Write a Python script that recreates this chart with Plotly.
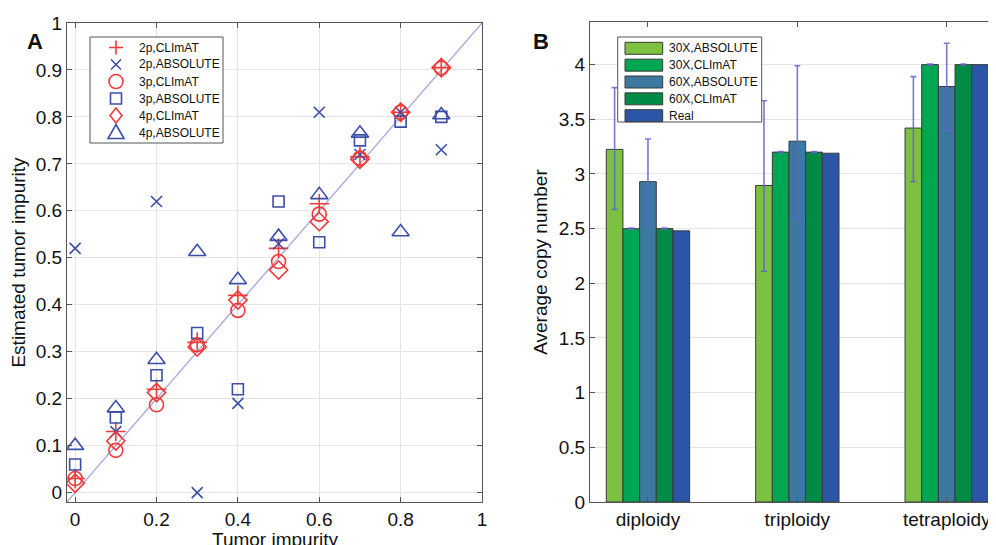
import plotly.graph_objects as go

# The page body has an 8px margin; size the figure so it fills the 996x545 window.
OFF = 8
W, H = 996 - OFF, 545 - OFF


def px(x):
    return (x - OFF) / W


def py(y):
    return 1 - (y - OFF) / H


# ---------------- Panel A data ----------------
tumor_impurity = [0.0, 0.1, 0.2, 0.3, 0.4, 0.5, 0.6, 0.7, 0.8, 0.9]
est_2p_climat = [0.03, 0.13, 0.22, 0.32, 0.42, 0.52, 0.615, 0.715, 0.81, 0.905]
est_2p_absolute = [0.52, 0.13, 0.62, 0.00, 0.19, 0.53, 0.81, 0.72, 0.81, 0.73]
est_3p_climat = [0.03, 0.09, 0.187, 0.315, 0.388, 0.492, 0.593, 0.712, 0.81, 0.904]
est_3p_absolute = [0.06, 0.16, 0.25, 0.34, 0.22, 0.62, 0.533, 0.75, 0.79, 0.80]
est_4p_climat = [0.02, 0.11, 0.213, 0.31, 0.41, 0.474, 0.577, 0.71, 0.81, 0.905]
est_4p_absolute = [0.10, 0.18, 0.283, 0.513, 0.453, 0.545, 0.634, 0.765, 0.555, 0.804]
series_a_names = ["2p,CLImAT", "2p,ABSOLUTE", "3p,CLImAT", "3p,ABSOLUTE", "4p,CLImAT", "4p,ABSOLUTE"]

# ---------------- Panel B data ----------------
ploidy = ["diploidy", "triploidy", "tetraploidy"]
series_b_names = ["30X,ABSOLUTE", "30X,CLImAT", "60X,ABSOLUTE", "60X,CLImAT", "Real"]
cn_30x_absolute = [3.225, 2.895, 3.42]
cn_30x_absolute_lo = [2.676, 2.11, 2.93]
cn_30x_absolute_hi = [3.79, 3.67, 3.89]
cn_30x_climat = [2.50, 3.20, 4.00]
cn_30x_climat_lo = [2.495, 3.195, 3.995]
cn_30x_climat_hi = [2.505, 3.205, 4.005]
cn_60x_absolute = [2.93, 3.30, 3.80]
cn_60x_absolute_lo = [2.535, 2.60, 3.40]
cn_60x_absolute_hi = [3.32, 3.99, 4.195]
cn_60x_climat = [2.50, 3.20, 4.00]
cn_60x_climat_lo = [2.495, 3.195, 3.995]
cn_60x_climat_hi = [2.505, 3.205, 4.005]
cn_real = [2.48, 3.19, 4.00]

RED = "#f23a3a"
BLUE = "#3b4ea8"
FONT = "Liberation Sans, Arial, sans-serif"

fig = go.Figure()

a_values = [est_2p_climat, est_2p_absolute, est_3p_climat, est_3p_absolute, est_4p_climat, est_4p_absolute]
a_styles = [
    dict(symbol="cross-thin-open", size=14, color=RED),
    dict(symbol="x-thin-open", size=11, color=BLUE),
    dict(symbol="circle-open", size=14, color=RED),
    dict(symbol="square-open", size=11, color=BLUE),
    dict(symbol="diamond-open", size=14, color=RED),
    dict(symbol="triangle-up-open", size=15, color=BLUE),
]

# identity reference line across the axis range
a_range = [-0.02, 1.0]
fig.add_trace(go.Scatter(x=a_range, y=a_range, mode="lines",
                         line=dict(color="#a3a8dc", width=1.3),
                         showlegend=False, hoverinfo="skip",
                         xaxis="x", yaxis="y"))

for name, vals, st in zip(series_a_names, a_values, a_styles):
    fig.add_trace(go.Scatter(
        x=tumor_impurity, y=vals, mode="markers", name=name,
        marker=dict(symbol=st["symbol"], size=st["size"], color=st["color"],
                    line=dict(color=st["color"], width=1.6)),
        xaxis="x", yaxis="y", showlegend=False))

b_colors = ["#7dc142", "#00a651", "#3d78a0", "#008a45", "#2c55a8"]
b_values = [cn_30x_absolute, cn_30x_climat, cn_60x_absolute, cn_60x_climat, cn_real]
b_lo = [cn_30x_absolute_lo, cn_30x_climat_lo, cn_60x_absolute_lo, cn_60x_climat_lo, None]
b_hi = [cn_30x_absolute_hi, cn_30x_climat_hi, cn_60x_absolute_hi, cn_60x_climat_hi, None]

for name, vals, lo, hi, col in zip(series_b_names, b_values, b_lo, b_hi, b_colors):
    err = None
    if lo is not None:
        err = dict(type="data", symmetric=False,
                   array=[h - v for h, v in zip(hi, vals)],
                   arrayminus=[v - l for v, l in zip(vals, lo)],
                   color="rgba(95,100,205,0.85)", thickness=1.6, width=3)
    fig.add_trace(go.Bar(x=ploidy, y=vals, name=name,
                         marker=dict(color=col, line=dict(color="#3a3a3a", width=1)),
                         error_y=err, xaxis="x2", yaxis="y2", showlegend=False))

axis_common = dict(showline=True, linecolor="#555555", linewidth=1,
                   ticks="inside", ticklen=5, tickcolor="#555555",
                   gridcolor="#e4e4e4", gridwidth=1,
                   zeroline=False, automargin=False,
                   tickfont=dict(size=19, color="#111", family=FONT))

fig.update_layout(
    width=W, height=H, template="none",
    margin=dict(l=0, r=0, t=0, b=0),
    paper_bgcolor="white", plot_bgcolor="white",
    font=dict(family=FONT, color="#111"),
    showlegend=False,
    barmode="group", bargap=0.442, bargroupgap=0.0,
    xaxis=dict(domain=[px(67), px(482)], range=a_range, mirror="ticks", anchor="y", showgrid=True,
               tickvals=[0, 0.2, 0.4, 0.6, 0.8, 1.0], ticktext=["0", "0.2", "0.4", "0.6", "0.8", "1"],
               **axis_common),
    yaxis=dict(domain=[py(502), py(23)], range=a_range, mirror="ticks", anchor="x", showgrid=True,
               tickvals=[i / 10 for i in range(11)],
               ticktext=["0", "0.1", "0.2", "0.3", "0.4", "0.5", "0.6", "0.7", "0.8", "0.9", "1"],
               title=dict(text="Estimated tumor impurity", font=dict(size=19), standoff=8), **axis_common),
    xaxis2=dict(domain=[px(590), 1.0], range=[-0.388, 2.33], mirror="ticks", anchor="y2",
                type="category", showgrid=False, **axis_common),
    yaxis2=dict(domain=[py(502), py(22)], range=[0, 4.39], mirror=False, anchor="x2", showgrid=True,
                tickvals=[0, 0.5, 1, 1.5, 2, 2.5, 3, 3.5, 4],
                ticktext=["0", "0.5", "1", "1.5", "2", "2.5", "3", "3.5", "4"],
                title=dict(text="Average copy number", font=dict(size=19), standoff=6), **axis_common),
)

# x-axis title of panel A (sits low, partly cut by the bottom edge as in the original)
fig.add_annotation(x=px(274.5), y=py(539), xref="paper", yref="paper", text="Tumor impurity",
                   showarrow=False, xanchor="center", yanchor="middle",
                   font=dict(size=19, family=FONT, color="#111"))


def pth(points, close=False):
    s = "M" + " L".join(f"{px(x):.5f},{py(y):.5f}" for x, y in points)
    return s + (" Z" if close else "")


# ---------------- manual legend for panel A ----------------
fig.add_shape(type="rect", xref="paper", yref="paper", x0=px(90), x1=px(223), y0=py(143), y1=py(37),
              line=dict(color="#555555", width=1), fillcolor="white", layer="above")
mx = 116
lw = 1.6
for i, (name, st) in enumerate(zip(series_a_names, a_styles)):
    cy = 47.5 + i * 17
    c = st["color"]
    sym = st["symbol"]
    common = dict(xref="paper", yref="paper", layer="above", line=dict(color=c, width=lw))
    if sym.startswith("cross"):
        fig.add_shape(type="path", path=pth([(mx - 7, cy), (mx + 7, cy)]) + " " + pth([(mx, cy - 7), (mx, cy + 7)]), **common)
    elif sym.startswith("x-"):
        fig.add_shape(type="path", path=pth([(mx - 5, cy - 5), (mx + 5, cy + 5)]) + " " + pth([(mx - 5, cy + 5), (mx + 5, cy - 5)]), **common)
    elif sym.startswith("circle"):
        fig.add_shape(type="circle", x0=px(mx - 7), x1=px(mx + 7), y0=py(cy + 7), y1=py(cy - 7), **common)
    elif sym.startswith("square"):
        fig.add_shape(type="rect", x0=px(mx - 5.5), x1=px(mx + 5.5), y0=py(cy + 5.5), y1=py(cy - 5.5), **common)
    elif sym.startswith("diamond"):
        fig.add_shape(type="path", path=pth([(mx, cy - 7.5), (mx + 6, cy), (mx, cy + 7.5), (mx - 6, cy)], True), **common)
    else:
        fig.add_shape(type="path", path=pth([(mx, cy - 8), (mx + 8, cy + 6), (mx - 8, cy + 6)], True), **common)
    fig.add_annotation(x=px(137), y=py(cy), xref="paper", yref="paper", text=name,
                       showarrow=False, xanchor="left", yanchor="middle",
                       font=dict(size=12, family=FONT, color="#111"))

# ---------------- manual legend for panel B ----------------
lx0, lx1, ly0, ly1 = 617.7, 761.7, 37, 122
fig.add_shape(type="rect", xref="paper", yref="paper", x0=px(lx0), x1=px(lx1), y0=py(ly1), y1=py(ly0),
              line=dict(color="#555555", width=1), fillcolor="white", layer="above")
for i, (name, col) in enumerate(zip(series_b_names, b_colors)):
    cy = 48.3 + i * 16.85
    fig.add_shape(type="rect", xref="paper", yref="paper", x0=px(625), x1=px(662.7),
                  y0=py(cy + 6), y1=py(cy - 6),
                  line=dict(color="#3a3a3a", width=1), fillcolor=col, layer="above")
    fig.add_annotation(x=px(666.5), y=py(cy), xref="paper", yref="paper", text=name,
                       showarrow=False, xanchor="left", yanchor="middle",
                       font=dict(size=12, family=FONT, color="#111"))

# panel letters
fig.add_annotation(x=px(25), y=py(27), xref="paper", yref="paper", text="<b>A</b>", showarrow=False,
                   font=dict(size=22, family=FONT, color="#111"))
fig.add_annotation(x=px(541), y=py(27), xref="paper", yref="paper", text="<b>B</b>", showarrow=False,
                   font=dict(size=22, family=FONT, color="#111"))

fig.write_html("out.html")
